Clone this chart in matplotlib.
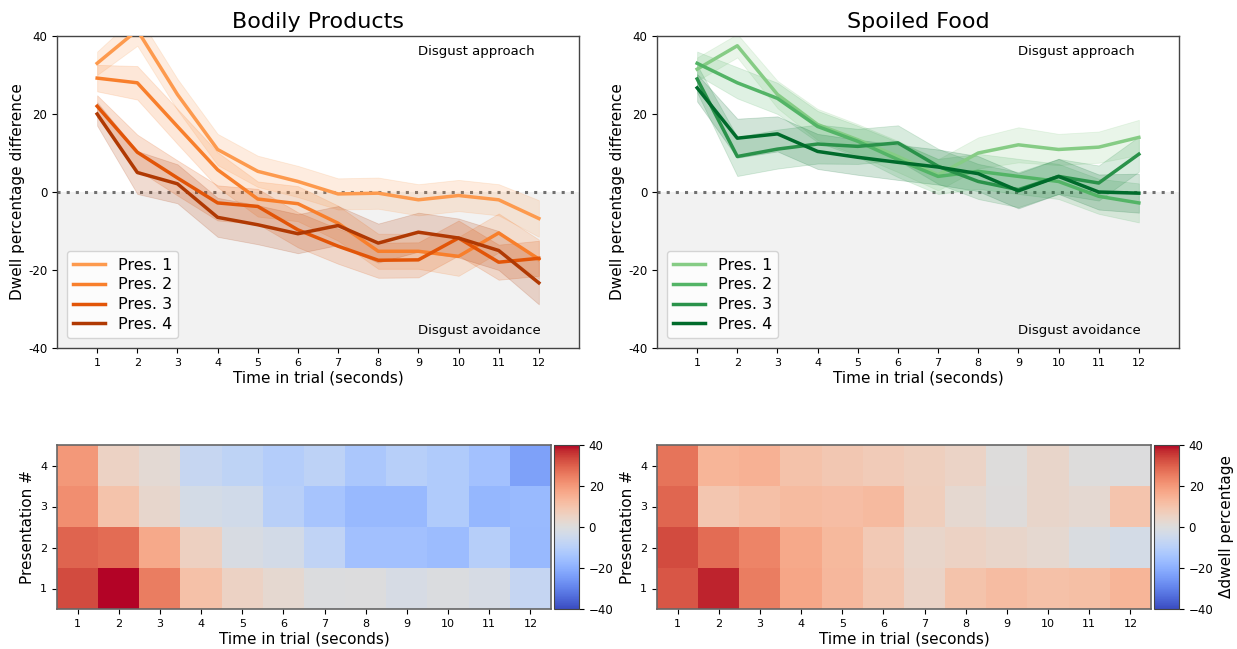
import numpy as np
import matplotlib
matplotlib.use("Agg")
import matplotlib.pyplot as plt

times = list(range(1, 13))
pres_labels = ["Pres. 1", "Pres. 2", "Pres. 3", "Pres. 4"]

# Bodily Products: mean dwell percentage difference per presentation
bodily_p1 = [33.0, 41.5, 25.0, 10.9, 5.3, 2.7, -0.5, -0.3, -2.0, -0.9, -2.0, -6.8]
bodily_p2 = [29.2, 28.0, 16.8, 5.7, -1.8, -3.0, -8.0, -15.2, -15.2, -16.5, -10.5, -17.2]
bodily_p3 = [22.0, 10.2, 3.6, -2.8, -3.7, -9.7, -13.9, -17.5, -17.4, -11.8, -18.0, -17.0]
bodily_p4 = [20.0, 5.0, 2.1, -6.5, -8.4, -10.7, -8.6, -13.1, -10.3, -11.8, -15.0, -23.3]
# half widths of confidence bands
bodily_e1 = [3.0, 4.0, 4.0, 4.0, 4.0, 4.0, 4.0, 4.0, 4.0, 4.0, 4.0, 4.7]
bodily_e2 = [3.4, 4.3, 4.5, 4.5, 4.5, 4.5, 4.5, 4.5, 4.5, 5.0, 5.0, 5.0]
bodily_e3 = [2.8, 4.5, 4.5, 4.5, 4.5, 4.5, 4.5, 4.5, 4.5, 4.5, 4.5, 4.5]
bodily_e4 = [3.0, 5.5, 5.0, 5.0, 5.0, 5.0, 5.0, 5.0, 5.0, 5.0, 5.0, 5.5]

# Spoiled Food
spoiled_p1 = [31.5, 37.5, 25.0, 17.3, 13.4, 9.1, 4.4, 10.0, 12.1, 10.9, 11.5, 14.0]
spoiled_p2 = [33.0, 28.0, 24.0, 16.8, 13.0, 8.3, 4.0, 5.3, 4.0, 2.7, -1.1, -2.8]
spoiled_p3 = [29.0, 9.1, 11.0, 12.3, 11.7, 12.6, 6.6, 2.7, 0.6, 4.0, 2.3, 9.7]
spoiled_p4 = [26.7, 13.8, 14.9, 10.4, 8.9, 7.6, 6.4, 4.7, 0.3, 4.0, 0.0, -0.3]
spoiled_e1 = [3.0, 3.0, 3.5, 4.0, 4.0, 4.0, 4.0, 4.0, 4.5, 4.0, 4.0, 4.5]
spoiled_e2 = [3.0, 4.0, 4.0, 4.0, 4.0, 4.5, 4.5, 4.5, 4.5, 4.5, 4.5, 5.0]
spoiled_e3 = [3.5, 5.0, 5.0, 5.0, 4.5, 4.5, 4.5, 4.5, 4.5, 4.5, 4.5, 4.5]
spoiled_e4 = [3.5, 5.0, 4.5, 4.5, 4.5, 4.5, 4.5, 4.5, 4.5, 4.5, 4.5, 5.0]

titles = ["Bodily Products", "Spoiled Food"]
yticks_line = [40, 20, 0, -20, -40]
ytick_labels_line = ["40", "20", "0", "-20", "-40"]
cbar_ticks = [40, 20, 0, -20, -40]

W, H = 1237, 649
fig = plt.figure(figsize=(W / 100, H / 100), dpi=100)


def ax_rect(x0, y0, x1, y1):
    return [x0 / W, 1 - y1 / H, (x1 - x0) / W, (y1 - y0) / H]


orange_cols = [plt.cm.Oranges(v) for v in [0.45, 0.55, 0.7, 0.85]]
green_cols = [plt.cm.Greens(v) for v in [0.45, 0.58, 0.72, 0.88]]

datasets = [
    ([bodily_p1, bodily_p2, bodily_p3, bodily_p4],
     [bodily_e1, bodily_e2, bodily_e3, bodily_e4], orange_cols),
    ([spoiled_p1, spoiled_p2, spoiled_p3, spoiled_p4],
     [spoiled_e1, spoiled_e2, spoiled_e3, spoiled_e4], green_cols),
]

lefts = [57, 657]
for k, (means, errs, cols) in enumerate(datasets):
    x0 = lefts[k]
    ax = fig.add_axes(ax_rect(x0, 36, x0 + 522, 348))
    ax.axhspan(-40, 0, color="#f2f2f2", zorder=0, lw=0)
    ax.axhline(0, color="#707070", ls=(0, (1, 2)), lw=2.2, zorder=1)
    for i in range(4):
        m = np.array(means[i])
        e = np.array(errs[i])
        ax.fill_between(times, m - e, m + e, color=cols[i], alpha=0.18, lw=0.6, zorder=2)
    for i in range(4):
        ax.plot(times, means[i], color=cols[i], lw=2.5, label=pres_labels[i], zorder=3)
    ax.set_xlim(0, 13)
    ax.set_ylim(-40, 40)
    ax.set_xticks(times)
    ax.set_xticklabels([str(t) for t in times], fontsize=8)
    ax.set_yticks(yticks_line)
    ax.set_yticklabels(ytick_labels_line, fontsize=8.5)
    ax.set_title(titles[k], fontsize=16, pad=6)
    ax.set_xlabel("Time in trial (seconds)", fontsize=11, labelpad=2)
    ax.set_ylabel("Dwell percentage difference", fontsize=11, labelpad=2)
    ax.text(9, 36, "Disgust approach", fontsize=9.5, va="center", ha="left")
    ax.text(9, -35.5, "Disgust avoidance", fontsize=9.5, va="center", ha="left")
    for s in ax.spines.values():
        s.set_color("#444444")
        s.set_linewidth(1.0)
    ax.legend(loc="lower left", fontsize=11.5, handlelength=2.0, framealpha=0.8,
              borderaxespad=0.6, labelspacing=0.3)

    # heatmap
    hax = fig.add_axes(ax_rect(x0, 445, x0 + 494, 609))
    data = np.array(means)
    im = hax.imshow(data, cmap="coolwarm", vmin=-40, vmax=40, origin="lower",
                    aspect="auto", interpolation="nearest",
                    extent=(0.5, 12.5, 0.5, 4.5))
    hax.set_xticks(times)
    hax.set_xticklabels([str(t) for t in times], fontsize=8)
    hax.set_yticks([1, 2, 3, 4])
    hax.set_yticklabels(["1", "2", "3", "4"], fontsize=8)
    hax.set_xlabel("Time in trial (seconds)", fontsize=11, labelpad=2)
    hax.set_ylabel("Presentation #", fontsize=11, labelpad=4)
    for s in hax.spines.values():
        s.set_color("#666666")
        s.set_linewidth(1.2)
    cax = fig.add_axes(ax_rect(x0 + 497, 445, x0 + 522, 609))
    cb = fig.colorbar(im, cax=cax, ticks=cbar_ticks)
    cb.ax.tick_params(labelsize=8.5)
    cb.outline.set_edgecolor("#444444")
    if k == 1:
        cb.set_label("Δdwell percentage", fontsize=11)

fig.savefig("out.png", dpi=100)
